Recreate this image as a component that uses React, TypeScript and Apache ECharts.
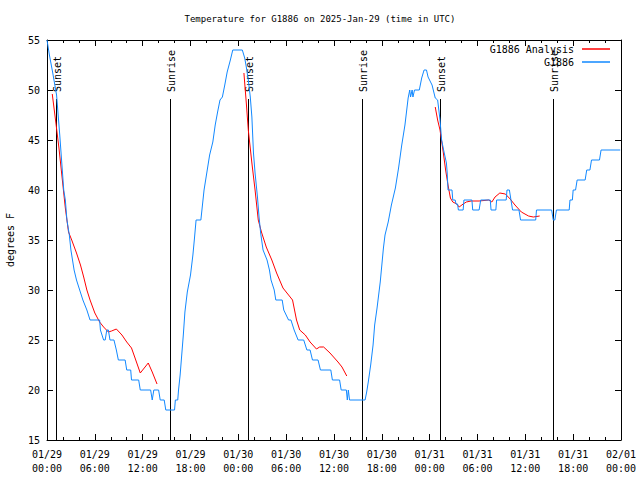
import React, { useEffect, useRef } from "react";
import * as echarts from "echarts";

const chartTitle = "Temperature for G1886 on 2025-Jan-29 (time in UTC)";
const yAxisName = "degrees F";

// x values are hours since 01/29 00:00 UTC
const xTickLabels = [
  "01/29\n00:00", "01/29\n06:00", "01/29\n12:00", "01/29\n18:00",
  "01/30\n00:00", "01/30\n06:00", "01/30\n12:00", "01/30\n18:00",
  "01/31\n00:00", "01/31\n06:00", "01/31\n12:00", "01/31\n18:00",
  "02/01\n00:00",
];

const sunTimes = [1.13, 15.47, 25.22, 39.55, 49.32, 63.51];
const sunLabels = ["Sunset", "Sunrise", "Sunset", "Sunrise", "Sunset", "Sunrise"];

const observed: [number, number][] = [
  [0, 55], [0.3, 53.5], [0.7, 51.8], [1.2, 49.5], [1.6, 45.5], [2.1, 40], [2.3, 39], [2.5, 37],
  [2.8, 35.5], [3.0, 34], [3.2, 33], [3.4, 32], [3.7, 31], [4.1, 30], [4.5, 29], [5.0, 28],
  [5.4, 27], [6.6, 27], [6.7, 26], [7.1, 25], [7.3, 25], [7.5, 26], [7.7, 26], [7.9, 25],
  [8.4, 25], [8.7, 24], [8.95, 23], [9.8, 23], [10.0, 22], [10.5, 22], [10.6, 21], [11.5, 21],
  [11.7, 20], [13.0, 20], [13.2, 19], [13.4, 20], [14.0, 20], [14.2, 19], [14.7, 19], [14.9, 18],
  [16.0, 18], [16.1, 19], [16.4, 19], [16.5, 20], [16.7, 21.5], [16.9, 23.5], [17.1, 25.5],
  [17.3, 27.8], [17.6, 29.8], [18.0, 31.5], [18.3, 33.5], [18.5, 35.2], [18.7, 37], [19.3, 37],
  [19.5, 38.5], [19.7, 40], [20.0, 41.5], [20.4, 43.5], [20.8, 44.8], [21.1, 46.5], [21.4, 47.8],
  [21.7, 49], [22.0, 49.3], [22.3, 50.5], [22.6, 51.8], [23.0, 53], [23.3, 54], [24.5, 54],
  [24.8, 53.2], [25.0, 52.3], [25.25, 51], [25.5, 49.3], [25.7, 47.3], [25.9, 43.7], [26.1, 41.7],
  [26.4, 39.3], [26.6, 37.3], [26.8, 35.7], [27.1, 34], [27.6, 33], [27.9, 32], [28.1, 31],
  [28.5, 30], [28.7, 29], [29.5, 29], [29.7, 28], [30.3, 27], [30.6, 27], [31.0, 26], [31.5, 25],
  [32.2, 25], [32.6, 24], [33.0, 24], [33.3, 23], [34.0, 23], [34.3, 22], [35.6, 22], [35.8, 21],
  [36.7, 21], [36.9, 20], [37.55, 20], [37.67, 19], [37.8, 20], [37.95, 19], [39.9, 19],
  [40.1, 19.8], [40.3, 20.8], [40.6, 22.5], [40.9, 24.5], [41.1, 26.5], [41.4, 28.2], [41.8, 30.8],
  [42.2, 34.2], [42.4, 35.5], [42.8, 36.8], [43.2, 38.5], [43.7, 40.2], [44.1, 42.2], [44.5, 44.5],
  [44.9, 46.5], [45.3, 49.2], [45.5, 50], [45.6, 49.3], [45.8, 50], [45.9, 49.3], [46.1, 50],
  [46.7, 50], [47.0, 51.2], [47.3, 52], [47.6, 52], [47.8, 51.3], [48.3, 50.5], [48.7, 49.2],
  [49.0, 49], [49.3, 47], [49.5, 45], [49.8, 43.8], [50.1, 42.7], [50.2, 41.7], [50.3, 40],
  [50.8, 40], [50.9, 39], [51.2, 39], [51.3, 38.6], [51.5, 38.6], [51.6, 38], [52.2, 38],
  [52.3, 39], [53.3, 39], [53.4, 38], [54.2, 38], [54.4, 39], [55.6, 39], [55.7, 38], [56.3, 38],
  [56.4, 39], [57.6, 39], [57.7, 40], [58.0, 40], [58.2, 39], [58.4, 38], [59.2, 38], [59.4, 37],
  [61.3, 37], [61.4, 38], [63.3, 38], [63.5, 37], [63.7, 37], [63.9, 38], [65.5, 38], [65.6, 39],
  [65.9, 39], [66.0, 40], [66.3, 40], [66.5, 41], [67.5, 41], [67.7, 42], [68.1, 42], [68.3, 43],
  [69.3, 43], [69.5, 44], [71.9, 44],
];

const analysisNight1: [number, number][] = [
  [0.66, 49.6], [1.1, 46.8], [1.5, 44.2], [1.9, 41.2], [2.3, 38.2], [2.7, 35.8], [3.1, 35],
  [3.7, 33.7], [4.2, 32.5], [4.6, 31.3], [5.0, 30], [5.4, 29], [6.0, 27.7], [6.6, 26.8],
  [7.1, 26.3], [7.7, 25.8], [8.1, 25.9], [8.7, 26.1], [9.4, 25.5], [10.0, 24.8], [10.6, 24.2],
  [11.0, 23.3], [11.7, 21.7], [12.2, 22.2], [12.7, 22.7], [13.2, 21.8], [13.8, 20.6],
];

const analysisNight2: [number, number][] = [
  [24.7, 51.7], [25.0, 48.7], [25.25, 46], [25.7, 42.7], [26.1, 40], [26.5, 37], [26.9, 35.8],
  [27.5, 34.3], [28.2, 33], [28.8, 31.7], [29.6, 30.2], [30.3, 29.5], [30.8, 29], [31.3, 27],
  [31.7, 26], [32.4, 25.5], [33.0, 24.8], [33.8, 24.1], [34.2, 24.3], [34.7, 24.3], [35.5, 23.7],
  [36.5, 22.8], [37.0, 22.3], [37.6, 21.4],
];

const analysisNight3: [number, number][] = [
  [48.7, 48.3], [49.0, 47], [49.3, 46], [49.7, 43.8], [50.0, 42], [50.3, 40.5], [50.6, 39.2],
  [50.9, 38.8], [51.4, 38.6], [51.7, 38.3], [52.2, 38.6], [52.6, 38.8], [53.2, 38.9], [54.2, 38.9],
  [55.4, 39], [55.8, 38.8], [56.2, 39.3], [56.8, 39.7], [57.5, 39.6], [58.1, 39.1], [58.7, 38.5],
  [59.5, 37.8], [60.4, 37.4], [61.0, 37.3], [61.8, 37.4],
];

const FONT = "'DejaVu Sans Mono', 'Liberation Mono', monospace";
const RED = "#ff0000";
const BLUE = "#1188ff";

export default function App() {
  const ref = useRef<HTMLDivElement>(null);

  useEffect(() => {
    if (!ref.current) return;
    const chart = echarts.init(ref.current, undefined, { renderer: "svg" });

    const axisCommon = {
      axisLine: { show: true, onZero: false, lineStyle: { color: "#000", width: 1 } },
      axisTick: { show: true, inside: true, length: 6, lineStyle: { color: "#000", width: 1 } },
      splitLine: { show: false },
    };

    const xBase = {
      type: "value",
      min: 0,
      max: 72,
      interval: 6,
      ...axisCommon,
      minorTick: { show: true, splitNumber: 3, length: 3, lineStyle: { color: "#000", width: 1 } },
    };

    const yBase = {
      type: "value",
      min: 15,
      max: 55,
      interval: 5,
      ...axisCommon,
    };

    const legendCommon = {
      right: 30,
      orient: "horizontal",
      align: "right",
      itemWidth: 28,
      itemHeight: 1.5,
      icon: "rect",
      selectedMode: false,
      padding: 0,
      textStyle: { fontSize: 10, fontFamily: FONT, color: "#000", padding: [0, 3, 0, 0] },
    };

    const redLine = (data: [number, number][]) => ({
      type: "line",
      name: "G1886 Analysis",
      data,
      symbol: "none",
      showSymbol: false,
      z: 3,
      lineStyle: { color: RED, width: 1 },
      itemStyle: { color: RED },
    });

    chart.setOption({
      animation: false,
      backgroundColor: "#fff",
      title: {
        text: chartTitle,
        left: "center",
        top: 14,
        padding: 0,
        textStyle: { fontSize: 9, fontWeight: "normal", fontFamily: FONT, color: "#000" },
      },
      legend: [
        { ...legendCommon, top: 44, data: ["G1886 Analysis"] },
        { ...legendCommon, top: 57, data: ["G1886"] },
      ],
      grid: {
        left: 47,
        top: 40,
        width: 574,
        height: 400,
        containLabel: false,
        outerBoundsMode: "none",
      },
      xAxis: [
        {
          ...xBase,
          position: "bottom",
          axisLabel: {
            show: true,
            color: "#000",
            fontSize: 10,
            fontFamily: FONT,
            lineHeight: 14,
            margin: 7,
            hideOverlap: false,
            showMinLabel: true,
            showMaxLabel: true,
            formatter: (v: number) => xTickLabels[Math.round(v / 6)] ?? "",
          },
        },
        { ...xBase, position: "top", axisLabel: { show: false } },
      ],
      yAxis: [
        {
          ...yBase,
          position: "left",
          name: yAxisName,
          nameLocation: "middle",
          nameRotate: 90,
          nameGap: 32,
          nameTextStyle: { fontSize: 10, fontFamily: FONT, color: "#000" },
          axisLabel: { show: true, color: "#000", fontSize: 10, fontFamily: FONT, margin: 7 },
        },
        { ...yBase, position: "right", axisLabel: { show: false } },
      ],
      series: [
        {
          type: "custom",
          name: "sun",
          xAxisIndex: 0,
          yAxisIndex: 0,
          z: 1,
          clip: false,
          silent: true,
          data: sunTimes.map((t, i) => [t, i]),
          renderItem: (_params: any, api: any) => {
            const t = api.value(0);
            const idx = api.value(1);
            const bottom = api.coord([t, 15]);
            const top = api.coord([t, 55]);
            const x = Math.round(bottom[0]) + 0.5;
            return {
              type: "group",
              children: [
                {
                  type: "line",
                  shape: { x1: x, y1: bottom[1], x2: x, y2: top[1] + 59 },
                  style: { stroke: "#000", lineWidth: 1 },
                },
                {
                  type: "text",
                  x: x + 1,
                  y: top[1] + 52,
                  rotation: Math.PI / 2,
                  style: {
                    text: sunLabels[idx],
                    fontSize: 10,
                    fontFamily: FONT,
                    fill: "#000",
                    align: "left",
                    verticalAlign: "middle",
                  },
                },
              ],
            };
          },
        },
        redLine(analysisNight1),
        redLine(analysisNight2),
        redLine(analysisNight3),
        {
          type: "line",
          name: "G1886",
          data: observed,
          symbol: "none",
          showSymbol: false,
          z: 4,
          lineStyle: { color: BLUE, width: 1 },
          itemStyle: { color: BLUE },
        },
      ],
    });

    return () => chart.dispose();
  }, []);

  return (
    <div
      ref={ref}
      style={{ position: "absolute", left: 0, top: 0, width: 640, height: 480, background: "#fff" }}
    />
  );
}
